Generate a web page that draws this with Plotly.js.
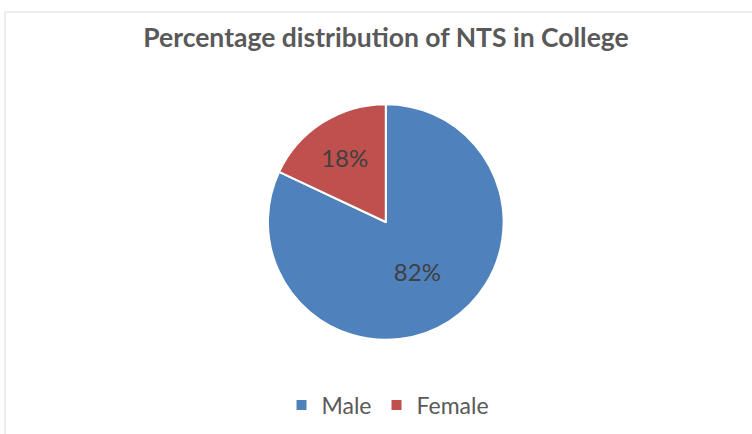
<!DOCTYPE html>
<html><head><meta charset="utf-8">
<script src="https://cdn.plot.ly/plotly-3.0.1.min.js"></script>
<style>html,body{margin:0;padding:0;background:#fff;}#chart{width:752px;height:434px;}</style>
</head><body><div id="chart"></div>
<script>
const labels = ["Male", "Female"];
const values = [82, 18];
const colors = ["#4F81BD", "#C0504D"];
const titleText = "Percentage distribution of NTS in College";

const trace = {
  type: "pie",
  labels: labels,
  values: values,
  sort: false,
  direction: "clockwise",
  rotation: 0,
  marker: {colors: colors, line: {color: "#ffffff", width: 2}},
  textinfo: "percent",
  textposition: "inside",
  insidetextorientation: "horizontal",
  textfont: {family: "Lato, 'Open Sans', sans-serif", size: 24, color: "#404040"},
  hoverinfo: "label+percent",
  domain: {x: [0.352, 0.674], y: [0.217, 0.760]}
};

const layout = {
  width: 752, height: 434,
  margin: {l: 0, r: 0, t: 0, b: 0},
  paper_bgcolor: "#ffffff",
  plot_bgcolor: "#ffffff",
  title: {
    text: "<b>" + titleText + "</b>",
    x: 386/752, xanchor: "center",
    y: 1 - 38/434, yanchor: "middle",
    font: {family: "Lato, 'Open Sans', sans-serif", size: 26.5, color: "#595959"}
  },
  showlegend: true,
  legend: {
    orientation: "h",
    x: 388/752, xanchor: "center",
    y: 1 - 405/434, yanchor: "middle",
    font: {family: "Lato, 'Open Sans', sans-serif", size: 23, color: "#595959"},
    itemwidth: 30
  },
  shapes: [{
    type: "rect", xref: "paper", yref: "paper",
    x0: 5/752, x1: 1.02, y0: -0.02, y1: 1 - 12/434,
    line: {color: "#D9D9D9", width: 1}, fillcolor: "rgba(0,0,0,0)", layer: "below"
  }]
};

Plotly.newPlot("chart", [trace], layout, {displayModeBar: false, staticPlot: true});
</script></body></html>
